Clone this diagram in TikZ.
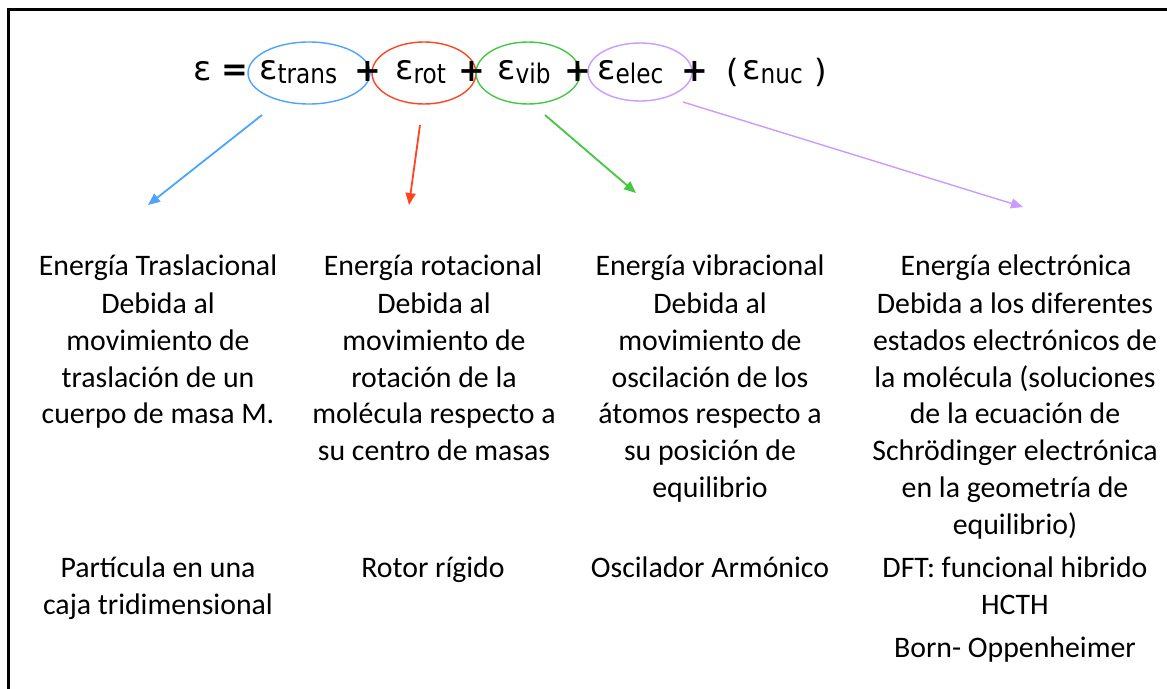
\documentclass[tikz,border=0pt]{standalone}
\usepackage{fontspec}
\setmainfont{Carlito}
\newfontfamily\eqfont{DejaVu Sans}
\newfontfamily\subfont[FakeStretch=0.86]{DejaVu Sans}
\newfontfamily\opfont{DejaVu Sans}
\usetikzlibrary{arrows.meta,shapes.geometric}
\definecolor{cblue}{HTML}{4DA3FF}
\definecolor{cred}{HTML}{FF4422}
\definecolor{cgreen}{HTML}{44C844}
\definecolor{cpurple}{HTML}{CC99FF}
\newcommand\bodyfont{\fontsize{29.8}{36.9}\selectfont}
\newcommand\sbs[1]{\raisebox{-4pt}{\subfont\fontsize{27}{30}\selectfont #1}}
\begin{document}
\begin{tikzpicture}[x=1pt,y=-1pt,
  txt/.style={inner sep=0pt, align=center, anchor=north, font=\bodyfont},
  ell/.style={ellipse, draw, line width=1.4pt, inner sep=0pt},
  arr/.style={line width=1.8pt, -{Triangle[length=12pt,width=10pt]}},
  eqn/.style={inner sep=0pt, anchor=base west, font=\eqfont\fontsize{34}{38}\selectfont},
  eqop/.style={inner sep=0pt, anchor=base, font=\opfont\bfseries\fontsize{32}{36}\selectfont},
  paren/.style={inner sep=0pt, anchor=base, font=\eqfont\fontsize{32}{36}\selectfont}
]
\useasboundingbox (0,0) rectangle (1167,688);
% frame
\draw[line width=3pt] (8,690) -- (8,9) -- (1170,9);

% ellipses
\node[ell, draw=cblue, minimum width=122pt, minimum height=62pt] (etrans) at (309,73) {};
\node[ell, draw=cred, minimum width=104pt, minimum height=62pt] (erot) at (424,73) {};
\node[ell, draw=cgreen, minimum width=104pt, minimum height=62pt] (evib) at (528,73) {};
\node[ell, draw=cpurple, minimum width=104pt, minimum height=58pt] (eelec) at (640,72) {};

% equation
\node[eqn] (e0) at (193,80) {ε};
\node[eqop] (eqs) at (235,80) {=};
\node[eqn] (t1) at (259,79) {ε\sbs{trans}};
\node[eqop] (p1) at (368,81) {+};
\node[eqn] (t2) at (395,79) {ε\sbs{rot}};
\node[eqop] (p2) at (472,81) {+};
\node[eqn] (t3) at (497,79) {ε\sbs{vib}};
\node[eqop] (p3) at (578,81) {+};
\node[eqn] (t4) at (597,79) {ε\sbs{elec}};
\node[eqop] (p4) at (695,81) {+};
\node[paren] (lp) at (733,82) {(};
\node[eqn] (t5) at (742,79) {ε\sbs{nuc}};
\node[paren] (rp) at (821,82) {)};

% arrow end points
\coordinate (b1) at (262,115);
\coordinate (b2) at (148,205);
\coordinate (r1) at (420,125);
\coordinate (r2) at (409,205);
\coordinate (g1) at (545,115);
\coordinate (g2) at (636,193);
\coordinate (v1) at (683,102);
\coordinate (v2) at (1023,207);
\draw[arr, cblue] (b1) -- (b2);
\draw[arr, cred] (r1) -- (r2);
\draw[arr, cgreen] (g1) -- (g2);
\draw[arr, cpurple, line width=1.4pt] (v1) -- (v2);

% column 1
\node[txt] (h1) at (158,249.2) {\strut Energía Traslacional};
\node[txt] (d1) at (158,287.2) {\strut Debida al\\movimiento de\\traslación de un\\cuerpo de masa M.};
\node[txt] (m1) at (158,551.2) {\strut Partícula en una\\caja tridimensional};
% column 2
\node[txt] (h2) at (433,249.2) {\strut Energía rotacional};
\node[txt] (d2) at (434,287.2) {\strut Debida al\\movimiento de\\rotación de la\\molécula respecto a\\su centro de masas};
\node[txt] (m2) at (433,551.2) {\strut Rotor rígido};
% column 3
\node[txt] (h3) at (710,249.2) {\strut Energía vibracional};
\node[txt] (d3) at (710,287.2) {\strut Debida al\\movimiento de\\oscilación de los\\átomos respecto a\\su posición de\\equilibrio};
\node[txt] (m3) at (710,551.2) {\strut Oscilador Armónico};
% column 4
\node[txt] (h4) at (1016,249.2) {\strut Energía electrónica};
\node[txt] (d4) at (1015,287.2) {\strut Debida a los diferentes\\estados electrónicos de\\la molécula (soluciones\\de la ecuación de\\Schrödinger electrónica\\en la geometría de\\equilibrio)};
\node[txt] (m4) at (1015,551.2) {\strut DFT: funcional hibrido\\HCTH};
\node[txt] (n4) at (1015,631.2) {\strut Born- Oppenheimer};
\end{tikzpicture}
\end{document}
